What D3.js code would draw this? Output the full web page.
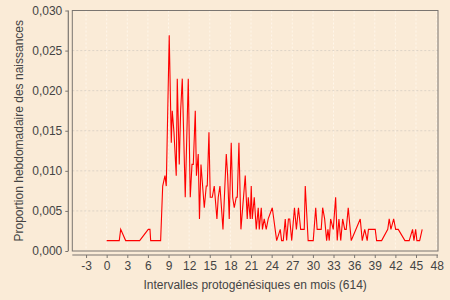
<!DOCTYPE html>
<html>
<head>
<meta charset="utf-8">
<script src="https://cdn.jsdelivr.net/npm/d3@7"></script>
<style>
  body { margin: 0; background: #FAEBD7; }
  svg { display: block; font-family: "Liberation Sans", Arial, sans-serif; }
</style>
</head>
<body>
<svg width="450" height="300"></svg>
<script>
// weekly points (months since marriage) with a non-zero share of births
const months = [0.0, 1.83, 2.04, 2.76, 4.8, 6.05, 6.3, 6.4, 7.85, 8.15, 8.48, 8.67, 9.1, 9.4, 9.54, 9.79,
    10.12, 10.27, 10.56, 10.76, 11.0, 11.43, 11.87, 12.16, 12.41, 12.6, 12.89, 13.06, 13.32, 13.5, 13.72,
    14.2, 14.49, 14.63, 14.88, 15.07, 15.36, 15.65, 16.04, 16.23, 16.48, 16.92, 17.4, 17.6, 17.83, 18.12,
    18.33, 18.56, 18.85, 19.0, 19.24, 19.53, 20.16, 20.45, 20.6, 20.89, 21.03, 21.18, 21.47, 21.76, 22.05,
    22.2, 22.49, 22.66, 22.92, 23.21, 23.5, 24.09, 24.73, 25.25, 25.45, 25.69, 25.98, 26.18, 26.44, 26.63,
    26.92, 27.32, 27.6, 27.9, 28.22, 28.74, 28.89, 29.31, 30.05, 30.41, 30.62, 31.21, 31.42, 31.71, 32.0,
    32.19, 32.38, 32.58, 32.96, 33.31, 33.54, 33.79, 34.05, 34.33, 34.63, 34.85, 35.14, 35.58, 36.89, 37.18,
    37.54, 37.9, 38.08, 39.07, 39.27, 40.0, 40.89, 41.1, 41.35, 41.75, 42.04, 42.42, 43.39, 44.01, 44.5,
    44.7, 44.95, 45.13, 45.53, 45.9];
const proportions = [0.0013, 0.0013, 0.0027, 0.0013, 0.0013, 0.0027, 0.0027, 0.0013, 0.0013, 0.0081, 0.0094, 0.0081, 0.0269, 0.0135, 0.0175, 0.0148,
    0.0094, 0.0215, 0.0108, 0.0175, 0.0215, 0.0067, 0.0215, 0.0067, 0.0108, 0.0108, 0.0175, 0.0094, 0.0121, 0.0040, 0.0108,
    0.0054, 0.0081, 0.0081, 0.0148, 0.0067, 0.0067, 0.0081, 0.0040, 0.0067, 0.0081, 0.0027, 0.0121, 0.0094, 0.0040, 0.0135,
    0.0067, 0.0054, 0.0067, 0.0067, 0.0135, 0.0027, 0.0094, 0.0040, 0.0067, 0.0040, 0.0081, 0.0040, 0.0067, 0.0027, 0.0054,
    0.0027, 0.0054, 0.0027, 0.0040, 0.0027, 0.0040, 0.0054, 0.0013, 0.0027, 0.0013, 0.0013, 0.0040, 0.0013, 0.0040, 0.0040,
    0.0013, 0.0054, 0.0027, 0.0054, 0.0027, 0.0027, 0.0081, 0.0013, 0.0013, 0.0054, 0.0027, 0.0027, 0.0054, 0.0040, 0.0013,
    0.0027, 0.0013, 0.0040, 0.0027, 0.0067, 0.0013, 0.0040, 0.0013, 0.0040, 0.0027, 0.0027, 0.0054, 0.0013, 0.0040, 0.0013,
    0.0027, 0.0013, 0.0027, 0.0027, 0.0013, 0.0013, 0.0027, 0.0040, 0.0027, 0.0040, 0.0027, 0.0027, 0.0013, 0.0013, 0.0027,
    0.0013, 0.0027, 0.0013, 0.0013, 0.0027];
const xTicks = [-3, 0, 3, 6, 9, 12, 15, 18, 21, 24, 27, 30, 33, 36, 39, 42, 45, 48];
const yTicks = [0, 0.005, 0.010, 0.015, 0.020, 0.025, 0.030];
const xTitle = "Intervalles protogénésiques en mois (614)";
const yTitle = "Proportion hebdomadaire des naissances";

const svg = d3.select("svg");
const pLeft = 72.3, pRight = 438, pTop = 10.5, pBottom = 251;

const x = d3.scaleLinear().domain([-5, 48.2]).range([pLeft, pRight]);
const y = d3.scaleLinear().domain([0, 0.030]).range([pBottom, pTop]);

const fr = d3.formatLocale({ decimal: ",", thousands: " ", grouping: [3], currency: ["", " €"] });
const yFmt = fr.format(".3f");

// plot background
svg.append("rect")
    .attr("x", pLeft).attr("y", pTop)
    .attr("width", pRight - pLeft).attr("height", pBottom - pTop)
    .attr("fill", "#FAEBD7");

// grid
svg.append("g").selectAll("line")
    .data(xTicks)
    .enter().append("line")
    .attr("x1", d => x(d)).attr("x2", d => x(d))
    .attr("y1", pTop).attr("y2", pBottom)
    .attr("stroke", "#fff6ea").attr("stroke-dasharray", "2,2");

svg.append("g").selectAll("line")
    .data(yTicks.slice(1))
    .enter().append("line")
    .attr("x1", pLeft).attr("x2", pRight)
    .attr("y1", d => y(d)).attr("y2", d => y(d))
    .attr("stroke", "#ddd3c6").attr("stroke-dasharray", "2,2");

// series
const pts = months.map((m, i) => [m, proportions[i]]);
const line = d3.line().x(d => x(d[0])).y(d => y(d[1]));
svg.append("path")
    .datum(pts)
    .attr("d", line)
    .attr("fill", "none")
    .attr("stroke", "#ff0000")
    .attr("stroke-width", 1.1);

// plot outline
svg.append("rect")
    .attr("x", pLeft).attr("y", pTop)
    .attr("width", pRight - pLeft).attr("height", pBottom - pTop)
    .attr("fill", "none").attr("stroke", "#7a7570");

// axes
const yAxis = svg.append("g")
    .attr("transform", "translate(" + (pLeft - 4) + ",0)")
    .call(d3.axisLeft(y).tickValues(yTicks).tickFormat(yFmt).tickSize(3).tickPadding(3));

const xAxis = svg.append("g")
    .attr("transform", "translate(0," + (pBottom + 4) + ")")
    .call(d3.axisBottom(x).tickValues(xTicks).tickFormat(d => String(d)).tickSize(3).tickPadding(3));

[yAxis, xAxis].forEach(a => {
    a.select(".domain").attr("stroke", "#7a7570").attr("stroke-width", 1.2);
    a.selectAll(".tick line").attr("stroke", "#7a7570");
    a.selectAll("text").attr("fill", "#444").style("font-size", "12px");
});
yAxis.select(".domain").attr("d", "M0," + pTop + "V" + pBottom);
xAxis.select(".domain").attr("d", "M" + pLeft + ",0H" + pRight);

// titles
svg.append("text")
    .attr("x", (pLeft + pRight) / 2).attr("y", 289)
    .attr("text-anchor", "middle")
    .attr("fill", "#444").style("font-size", "12px")
    .text(xTitle);

svg.append("text")
    .attr("transform", "translate(23," + ((pTop + pBottom) / 2) + ") rotate(-90)")
    .attr("text-anchor", "middle")
    .attr("fill", "#444").style("font-size", "12px")
    .text(yTitle);
</script>
</body>
</html>
